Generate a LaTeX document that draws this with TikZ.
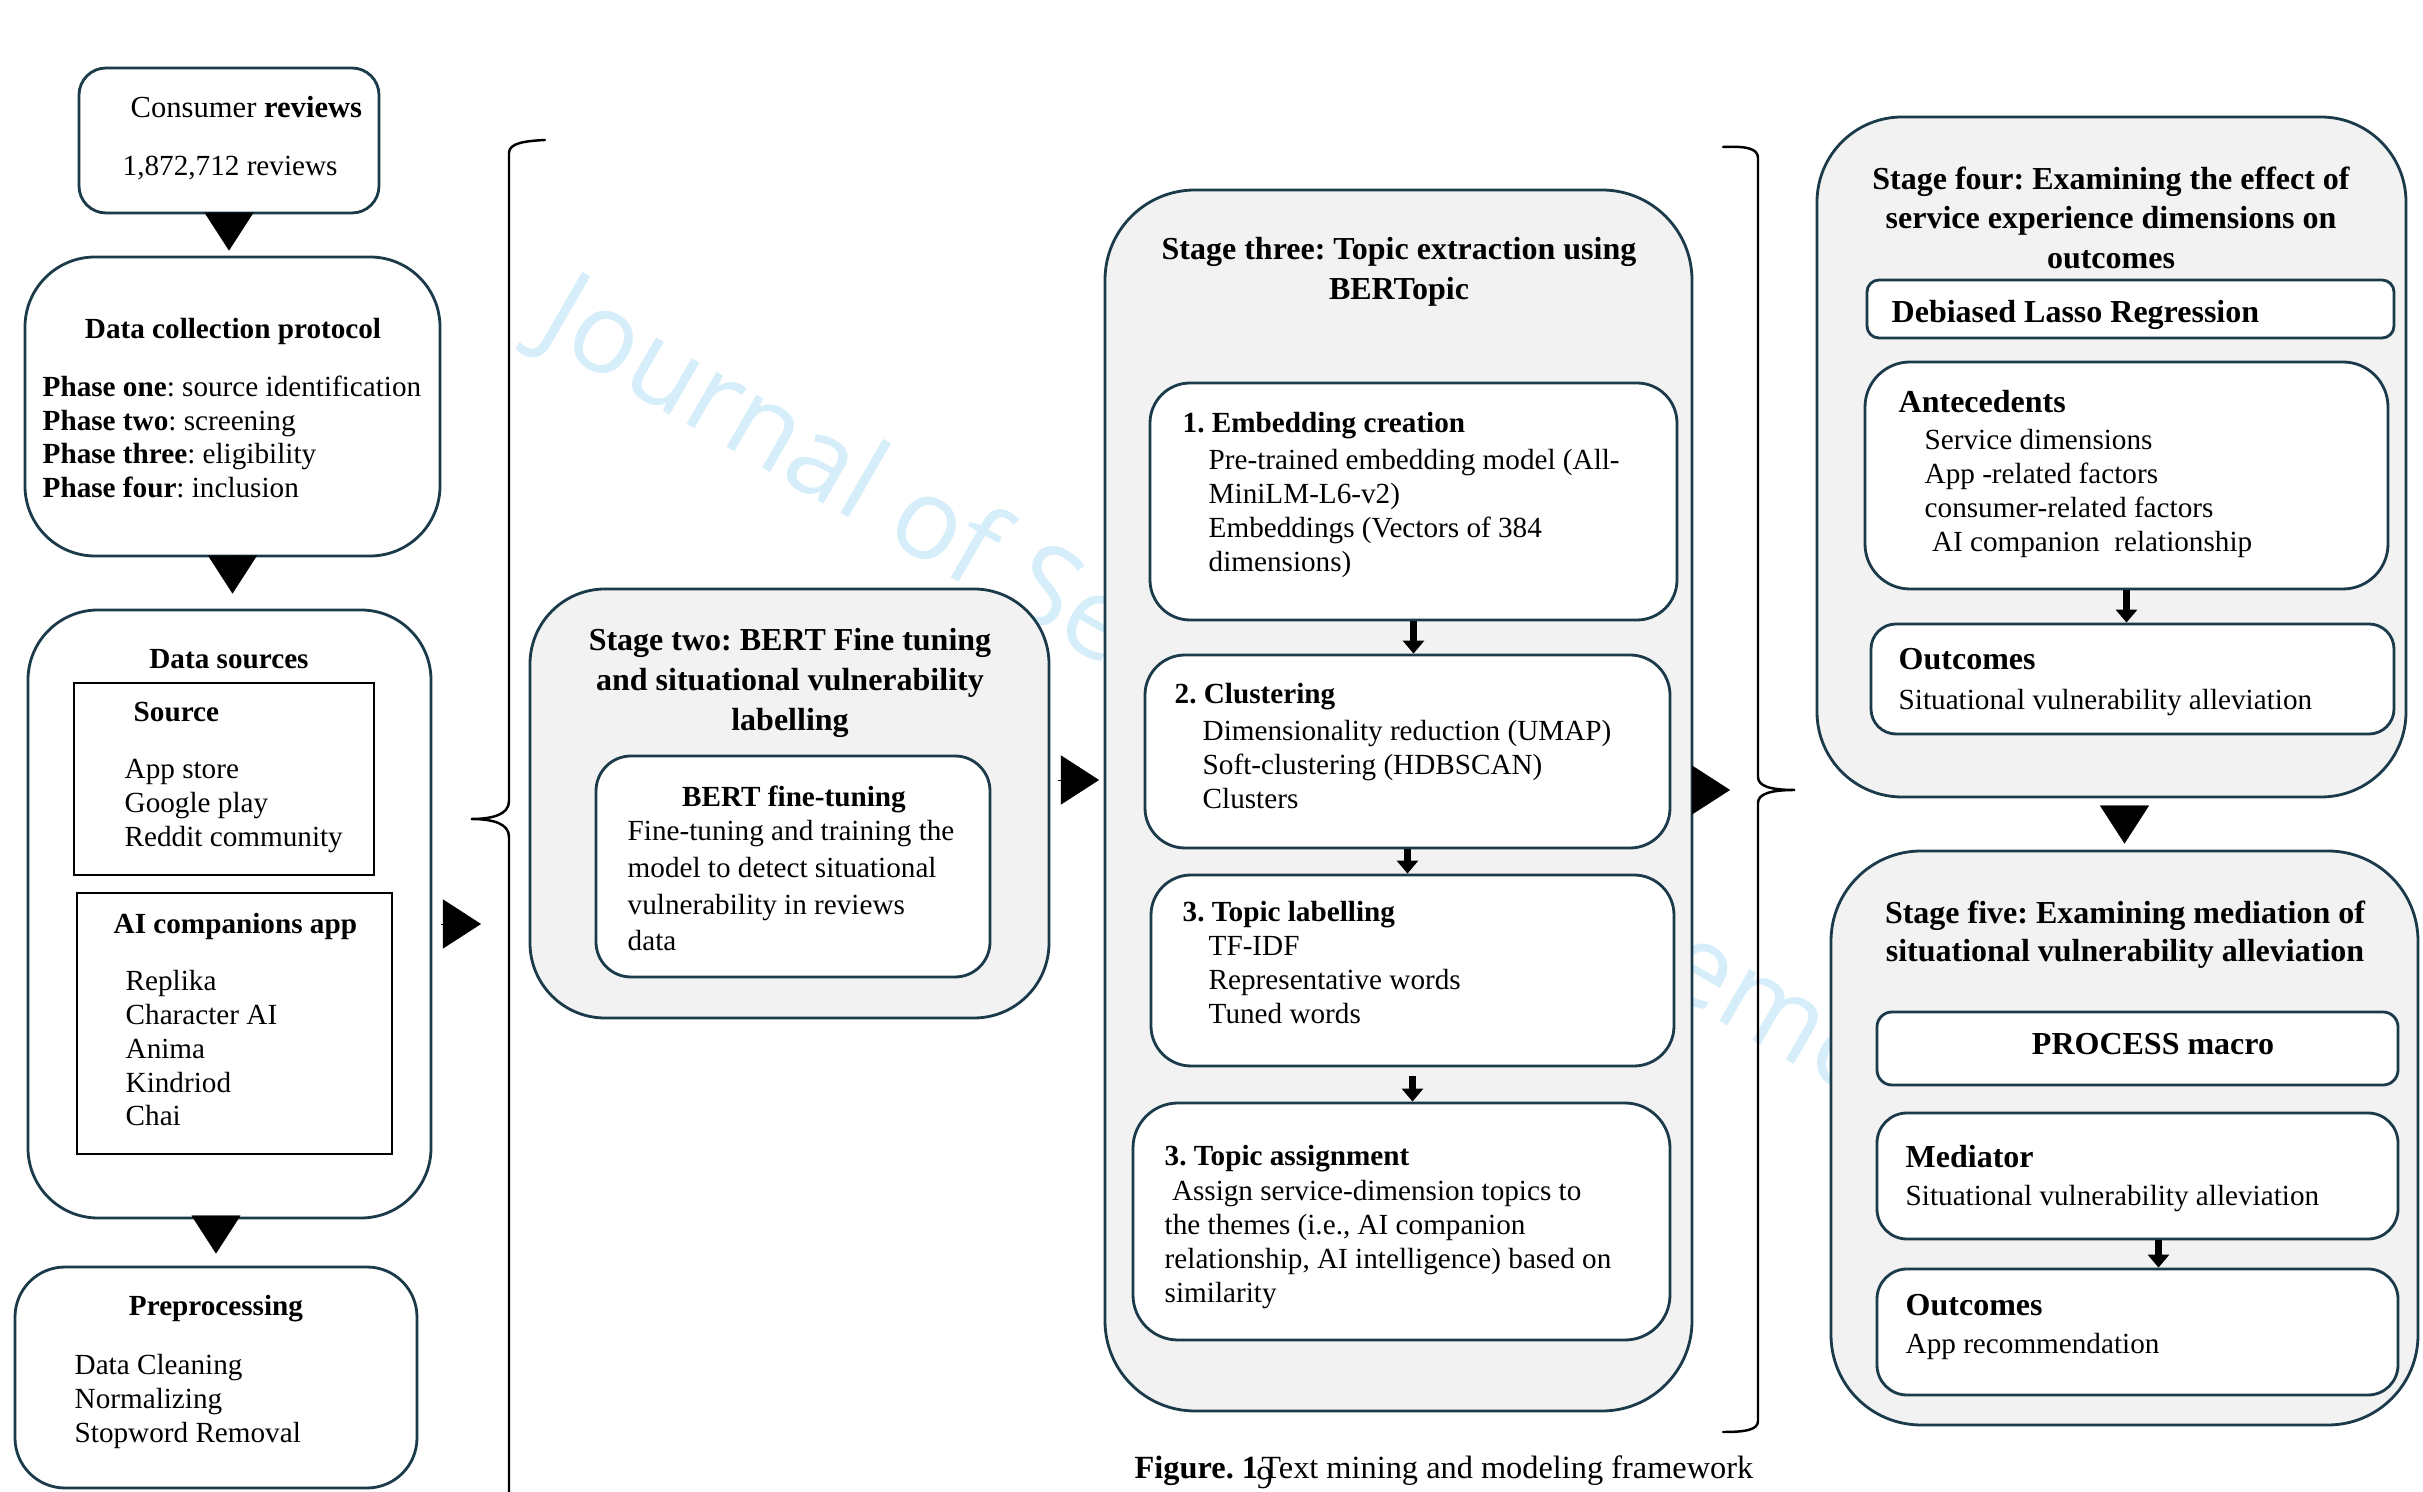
\documentclass[tikz,border=0pt]{standalone}
\usepackage{fontspec}
\setmainfont{Liberation Serif}
\newfontfamily\wmfont{Open Sans}
\usetikzlibrary{fit,arrows.meta}
\frenchspacing

\definecolor{edge}{HTML}{1B3B4B}
\definecolor{panel}{HTML}{F2F2F2}
\definecolor{wmblue}{HTML}{D5EEFA}
\newcommand\bodyfont{\fontsize{8.3}{9.6}\selectfont}
\newcommand\headfont{\fontsize{9.1}{11.3}\selectfont\bfseries}

\begin{document}
\begin{tikzpicture}[x=0.01cm, y=-0.01cm,
    box/.style={draw=edge, line width=0.8pt, inner sep=0pt, rounded corners=#1},
    plainbox/.style={draw=black, line width=0.7pt, inner sep=0pt},
    txt/.style={anchor=north west, inner sep=0pt, align=left, font=\bodyfont},
    ttl/.style={anchor=north, inner sep=0pt, align=center, font=\headfont},
    tri/.style={line width=0.1pt, -{Triangle[length=0.38cm,width=0.49cm]}},
    darr/.style={line width=0.065cm, -{Triangle[length=0.13cm,width=0.21cm]}},
    brace/.style={line width=0.7pt, line cap=round}]
    \useasboundingbox (0,0) rectangle (2423,1492);

    \node at (533,336) [anchor=base west, rotate=-30, inner sep=0pt, text=wmblue, font=\wmfont\fontsize{32}{33}\selectfont] (wm) {Journal of Service Management};

    \draw[brace] (545,140) .. controls (525,141) and (509,143) .. (509,153) -- (509,801) .. controls (509,814) and (494,819) .. (471,819) .. controls (494,819) and (509,824) .. (509,837) -- (509,1500);
    \draw[brace] (1723,147) .. controls (1745,146) and (1758,148) .. (1758,158) -- (1758,777) .. controls (1758,786) and (1770,790) .. (1795,790) .. controls (1770,790) and (1758,794) .. (1758,803) -- (1758,1421) .. controls (1758,1430) and (1745,1432) .. (1723,1432);

    % column one
    \node [box=0.27cm, fill=white, fit={(79,68) (379,213)}] (cr) {};
    \node at (130,96) [txt, font=\fontsize{8.7}{10}\selectfont] (crt) {Consumer \textbf{reviews}};
    \node at (122,155) [txt] (crn) {1,872,712 reviews};

    \node [box=0.7cm, fill=white, fit={(25,257) (440,556)}] (dcp) {};
    \node at (233,318) [ttl, font=\bodyfont\bfseries] (dcpt) {Data collection protocol};
    \node at (42,375) [txt] (dcpl) {\textbf{Phase one}: source identification\\\textbf{Phase two}: screening\\\textbf{Phase three}: eligibility\\\textbf{Phase four}: inclusion};

    \node [box=0.7cm, fill=white, fit={(28,610) (431,1218)}] (ds) {};
    \node at (229,649) [ttl, font=\bodyfont\bfseries] (dst) {Data sources};
    \node [plainbox, fit={(74,683) (374,875)}] (src) {};
    \node at (133,701) [txt, font=\bodyfont\bfseries] (srct) {Source};
    \node at (124,759) [txt] (srcl) {App store\\Google play\\Reddit community};
    \node [plainbox, fit={(77,893) (392,1154)}] (aic) {};
    \node at (113,913) [txt, font=\bodyfont\bfseries] (aict) {AI companions app};
    \node at (125,970) [txt] (aicl) {Replika\\Character AI\\Anima\\Kindriod\\Chai};

    \node [box=0.5cm, fill=white, fit={(15,1267) (417,1488)}] (pp) {};
    \node at (216,1295) [ttl, font=\bodyfont\bfseries] (ppt) {Preprocessing};
    \node at (74,1354) [txt] (ppl) {Data Cleaning\\Normalizing\\Stopword Removal};

    % stage two
    \node [box=0.75cm, fill=panel, fit={(530,589) (1049,1018)}] (s2) {};
    \node at (790,628) [ttl] (s2t) {Stage two: BERT Fine tuning\\and situational vulnerability\\labelling};
    \node [box=0.35cm, fill=white, fit={(596,756) (990,977)}] (bft) {};
    \node at (794,785) [ttl, font=\bodyfont\bfseries] (bftt) {BERT fine-tuning};
    \node at (627,820) [txt, font=\fontsize{8.3}{10.4}\selectfont] (bftl) {Fine-tuning and training the\\model to detect situational\\vulnerability in reviews\\data};

    % stage three
    \node [box=0.9cm, fill=panel, fit={(1105,190) (1692,1411)}] (s3) {};
    \node at (1399,237) [ttl] (s3t) {Stage three: Topic extraction using\\BERTopic};
    \node [box=0.4cm, fill=white, fit={(1150,383) (1677,620)}] (emb) {};
    \node at (1182,412) [txt, font=\bodyfont\bfseries] (embt) {1. Embedding creation};
    \node at (1208,449) [txt] (embl) {Pre-trained embedding model (All-\\MiniLM-L6-v2)\\Embeddings (Vectors of 384\\dimensions)};
    \node [box=0.4cm, fill=white, fit={(1145,655) (1670,848)}] (clu) {};
    \node at (1174,683) [txt, font=\bodyfont\bfseries] (clut) {2. Clustering};
    \node at (1202,720) [txt] (clul) {Dimensionality reduction (UMAP)\\Soft-clustering (HDBSCAN)\\Clusters};
    \node [box=0.4cm, fill=white, fit={(1151,875) (1674,1066)}] (lab) {};
    \node at (1182,901) [txt, font=\bodyfont\bfseries] (labt) {3. Topic labelling};
    \node at (1208,936) [txt] (labl) {TF-IDF\\Representative words\\Tuned words};
    \node [box=0.45cm, fill=white, fit={(1133,1103) (1670,1340)}] (asg) {};
    \node at (1164,1145) [txt, font=\bodyfont\bfseries] (asgt) {3. Topic assignment};
    \node at (1164,1180) [txt] (asgl) {\ Assign service-dimension topics to\\the themes (i.e., AI companion\\relationship, AI intelligence) based on\\similarity};

    % stage four
    \node [box=0.85cm, fill=panel, fit={(1817,117) (2406,797)}] (s4) {};
    \node at (2111,166) [ttl] (s4t) {Stage four: Examining the effect of\\service experience dimensions on\\outcomes};
    \node [box=0.12cm, fill=white, fit={(1867,280) (2394,338)}] (dlr) {};
    \node at (1891,300) [txt, font=\headfont] (dlrt) {Debiased Lasso Regression};
    \node [box=0.45cm, fill=white, fit={(1865,362) (2388,589)}] (ant) {};
    \node at (1898,390) [txt, font=\headfont] (antt) {Antecedents};
    \node at (1924,429) [txt] (antl) {Service dimensions\\App -related factors\\consumer-related factors\\\ AI companion\ \ relationship};
    \node [box=0.25cm, fill=white, fit={(1871,624) (2394,734)}] (o1) {};
    \node at (1898,648) [txt, font=\headfont] (o1t) {Outcomes};
    \node at (1898,689) [txt] (o1l) {Situational vulnerability alleviation};

    % stage five
    \node [box=0.9cm, fill=panel, fit={(1831,851) (2418,1425)}] (s5) {};
    \node at (2125,900) [ttl, font=\fontsize{9.1}{10.9}\selectfont\bfseries] (s5t) {Stage five: Examining mediation of\\situational vulnerability alleviation};
    \node [box=0.15cm, fill=white, fit={(1877,1012) (2398,1085)}] (pm) {};
    \node at (2153,1033) [ttl] (pmt) {PROCESS macro};
    \node [box=0.3cm, fill=white, fit={(1877,1113) (2398,1239)}] (med) {};
    \node at (1905,1145) [txt, font=\headfont] (medt) {Mediator};
    \node at (1905,1185) [txt] (medl) {Situational vulnerability alleviation};
    \node [box=0.3cm, fill=white, fit={(1877,1269) (2398,1395)}] (o2) {};
    \node at (1905,1294) [txt, font=\headfont] (o2t) {Outcomes};
    \node at (1905,1333) [txt] (o2l) {App recommendation};

    \node at (1134,1455) [txt, font=\fontsize{9.2}{11}\selectfont] (cap) {\textbf{Figure. 1}\hspace{0.1em}Text mining and modeling framework};
    \node at (1256,1466) [txt, font=\fontsize{9.2}{11}\selectfont] (pg) {9};

    \coordinate (t4) at (481,924);
    \coordinate (t5) at (1099,780);
    \coordinate (t6) at (1730,790);
    \draw[tri, shorten <=0.02cm, shorten >=0.05cm] (cr.south) -- (cr.south |- dcp.north);
    \draw[tri, shorten <=0.02cm, shorten >=0.15cm] (dcp.south) -- (dcp.south |- ds.north);
    \draw[tri, shorten <=0.01cm, shorten >=0.12cm] (pp.north |- ds.south) -- (pp.north);
    \draw[tri, shorten <=0.09cm] (ds.east |- t4) -- (t4);
    \draw[tri, shorten <=0.08cm] (s2.east |- t5) -- (t5);
    \draw[tri] (s3.east |- t6) -- (t6);
    \draw[tri, shorten <=0.1cm, shorten >=0.06cm] (s5.north |- s4.south) -- (s5.north);

    \draw[darr] (emb.south) -- (emb.south |- clu.north);
    \draw[darr] (clu.south) -- (clu.south |- lab.north);
    \draw[darr, shorten <=0.09cm] (lab.south) -- (lab.south |- asg.north);
    \draw[darr] (ant.south) -- (ant.south |- o1.north);
    \draw[darr] ([xshift=0.21cm]med.south) -- ([xshift=0.21cm]med.south |- o2.north);
\end{tikzpicture}
\end{document}
